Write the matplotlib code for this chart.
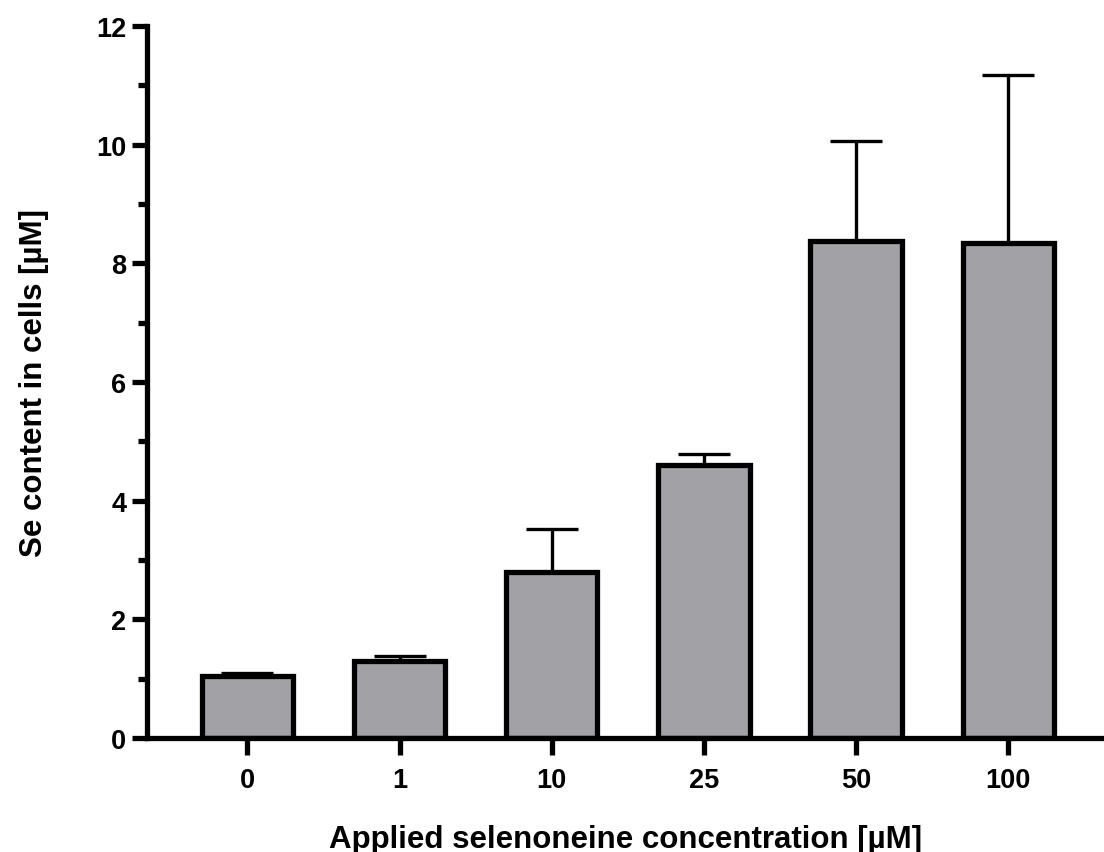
import numpy as np
import matplotlib.pyplot as plt
from matplotlib.ticker import MultipleLocator

# Se content per applied selenoneine concentration
concentrations = ['0', '1', '10', '25', '50', '100']
se_content = [1.05, 1.29, 2.80, 4.61, 8.38, 8.35]
se_error = [0.05, 0.09, 0.72, 0.18, 1.68, 2.83]

plt.rcParams['font.family'] = ['Liberation Sans', 'DejaVu Sans']
plt.rcParams['font.weight'] = 'bold'

fig = plt.figure(figsize=(11.04, 8.53), dpi=100)
ax = fig.add_axes([0.1332, 0.1336, 0.8668, 0.8347])

x = np.arange(len(concentrations))
ax.bar(x, se_content, width=0.60, color='#a2a1a6', edgecolor='black',
       linewidth=3.8, zorder=2)
ax.errorbar(x, se_content, yerr=[np.zeros(len(se_error)), se_error],
            fmt='none', ecolor='black', elinewidth=2.4, capsize=18.5,
            capthick=2.4, zorder=1)

ax.set_xlim(-0.66, 5.63)
ax.set_ylim(0, 12)
ax.set_xticks(x)
ax.set_xticklabels(concentrations)
ax.yaxis.set_major_locator(MultipleLocator(2))
ax.yaxis.set_minor_locator(MultipleLocator(1))

for side in ['top', 'right']:
    ax.spines[side].set_visible(False)
for side in ['left', 'bottom']:
    ax.spines[side].set_linewidth(3.8)

ax.tick_params(axis='both', which='major', length=11, width=3.8,
               labelsize=19.5, pad=4)
ax.tick_params(axis='y', which='minor', length=6.5, width=3.8)
ax.tick_params(axis='x', which='major', length=12, pad=9)

ax.set_xlabel('Applied selenoneine concentration [µM]', fontsize=22.5,
              fontweight='bold', labelpad=22)
ax.set_ylabel('Se content in cells [µM]', fontsize=22.5,
              fontweight='bold', labelpad=34)

fig.savefig('out.png', dpi=100)
